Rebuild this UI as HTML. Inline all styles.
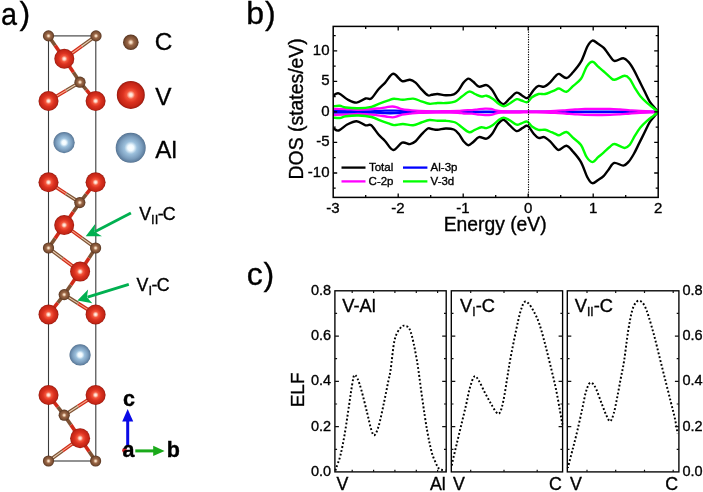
<!DOCTYPE html>
<html><head><meta charset="utf-8"><style>
html,body{margin:0;padding:0;background:#fff;width:703px;height:492px;overflow:hidden}
svg{display:block;will-change:transform}
text{font-family:"Liberation Sans", sans-serif;fill:#000;stroke:#000;stroke-width:0.35px}
</style></head><body>
<svg width="703" height="492" viewBox="0 0 703 492" font-family='&quot;Liberation Sans&quot;, sans-serif'>
<defs><radialGradient id="gV" cx="0.5" cy="0.5" r="0.5"><stop offset="0" stop-color="#fff6ee"/><stop offset="0.12" stop-color="#ffd8c8"/><stop offset="0.3" stop-color="#f4563c"/><stop offset="0.55" stop-color="#dc3220"/><stop offset="0.85" stop-color="#c42616"/><stop offset="0.95" stop-color="#a81c10"/><stop offset="1" stop-color="#8a1a10"/></radialGradient><radialGradient id="gC" cx="0.5" cy="0.5" r="0.5"><stop offset="0" stop-color="#fff2e4"/><stop offset="0.15" stop-color="#f0d2b4"/><stop offset="0.4" stop-color="#9c6848"/><stop offset="0.75" stop-color="#7c5034"/><stop offset="1" stop-color="#54321e"/></radialGradient><radialGradient id="gA" cx="0.5" cy="0.5" r="0.5"><stop offset="0" stop-color="#ffffff"/><stop offset="0.2" stop-color="#f0faff"/><stop offset="0.42" stop-color="#9cc0dc"/><stop offset="0.75" stop-color="#7a9cbc"/><stop offset="0.95" stop-color="#5e7e9e"/><stop offset="1" stop-color="#4e6a88"/></radialGradient></defs>
<rect x="48.5" y="35.9" width="47.3" height="425.1" fill="none" stroke="#3a3a3a" stroke-width="1.1"/>
<line x1="48.50" y1="35.90" x2="55.15" y2="45.54" stroke="#7e5234" stroke-width="3.6"/>
<line x1="55.15" y1="45.54" x2="64.30" y2="58.80" stroke="#d02a18" stroke-width="3.6"/>
<line x1="96.00" y1="35.90" x2="81.93" y2="46.06" stroke="#7e5234" stroke-width="3.6"/>
<line x1="81.93" y1="46.06" x2="64.30" y2="58.80" stroke="#d02a18" stroke-width="3.6"/>
<line x1="96.00" y1="35.90" x2="81.93" y2="46.06" stroke="#ead0b4" stroke-width="1.1"/>
<line x1="81.93" y1="46.06" x2="64.30" y2="58.80" stroke="#f6a88a" stroke-width="1.1"/>
<line x1="80.00" y1="82.20" x2="73.38" y2="72.33" stroke="#7e5234" stroke-width="3.6"/>
<line x1="73.38" y1="72.33" x2="64.30" y2="58.80" stroke="#d02a18" stroke-width="3.6"/>
<line x1="80.00" y1="82.20" x2="66.14" y2="90.47" stroke="#7e5234" stroke-width="3.6"/>
<line x1="66.14" y1="90.47" x2="48.50" y2="101.00" stroke="#d02a18" stroke-width="3.6"/>
<line x1="80.00" y1="82.20" x2="66.14" y2="90.47" stroke="#ead0b4" stroke-width="1.1"/>
<line x1="66.14" y1="90.47" x2="48.50" y2="101.00" stroke="#f6a88a" stroke-width="1.1"/>
<line x1="80.00" y1="82.20" x2="86.40" y2="89.91" stroke="#7e5234" stroke-width="3.6"/>
<line x1="86.40" y1="89.91" x2="95.60" y2="101.00" stroke="#d02a18" stroke-width="3.6"/>
<line x1="79.80" y1="202.60" x2="66.00" y2="193.65" stroke="#7e5234" stroke-width="3.6"/>
<line x1="66.00" y1="193.65" x2="48.50" y2="182.30" stroke="#d02a18" stroke-width="3.6"/>
<line x1="79.80" y1="202.60" x2="66.00" y2="193.65" stroke="#ead0b4" stroke-width="1.1"/>
<line x1="66.00" y1="193.65" x2="48.50" y2="182.30" stroke="#f6a88a" stroke-width="1.1"/>
<line x1="79.80" y1="202.60" x2="86.35" y2="194.19" stroke="#7e5234" stroke-width="3.6"/>
<line x1="86.35" y1="194.19" x2="95.60" y2="182.30" stroke="#d02a18" stroke-width="3.6"/>
<line x1="79.80" y1="202.60" x2="73.25" y2="212.04" stroke="#7e5234" stroke-width="3.6"/>
<line x1="73.25" y1="212.04" x2="64.20" y2="225.10" stroke="#d02a18" stroke-width="3.6"/>
<line x1="48.50" y1="248.00" x2="55.11" y2="238.36" stroke="#7e5234" stroke-width="3.6"/>
<line x1="55.11" y1="238.36" x2="64.20" y2="225.10" stroke="#d02a18" stroke-width="3.6"/>
<line x1="95.60" y1="248.00" x2="81.68" y2="237.85" stroke="#7e5234" stroke-width="3.6"/>
<line x1="81.68" y1="237.85" x2="64.20" y2="225.10" stroke="#d02a18" stroke-width="3.6"/>
<line x1="95.60" y1="248.00" x2="81.68" y2="237.85" stroke="#ead0b4" stroke-width="1.1"/>
<line x1="81.68" y1="237.85" x2="64.20" y2="225.10" stroke="#f6a88a" stroke-width="1.1"/>
<line x1="48.50" y1="248.00" x2="62.54" y2="258.48" stroke="#7e5234" stroke-width="3.6"/>
<line x1="62.54" y1="258.48" x2="80.10" y2="271.60" stroke="#d02a18" stroke-width="3.6"/>
<line x1="48.50" y1="248.00" x2="62.54" y2="258.48" stroke="#ead0b4" stroke-width="1.1"/>
<line x1="62.54" y1="258.48" x2="80.10" y2="271.60" stroke="#f6a88a" stroke-width="1.1"/>
<line x1="95.60" y1="248.00" x2="89.06" y2="257.96" stroke="#7e5234" stroke-width="3.6"/>
<line x1="89.06" y1="257.96" x2="80.10" y2="271.60" stroke="#d02a18" stroke-width="3.6"/>
<line x1="64.20" y1="294.60" x2="70.90" y2="284.91" stroke="#7e5234" stroke-width="3.6"/>
<line x1="70.90" y1="284.91" x2="80.10" y2="271.60" stroke="#d02a18" stroke-width="3.6"/>
<line x1="64.20" y1="294.60" x2="57.71" y2="302.82" stroke="#7e5234" stroke-width="3.6"/>
<line x1="57.71" y1="302.82" x2="48.50" y2="314.50" stroke="#d02a18" stroke-width="3.6"/>
<line x1="64.20" y1="294.60" x2="78.04" y2="303.37" stroke="#7e5234" stroke-width="3.6"/>
<line x1="78.04" y1="303.37" x2="95.60" y2="314.50" stroke="#d02a18" stroke-width="3.6"/>
<line x1="64.20" y1="294.60" x2="78.04" y2="303.37" stroke="#ead0b4" stroke-width="1.1"/>
<line x1="78.04" y1="303.37" x2="95.60" y2="314.50" stroke="#f6a88a" stroke-width="1.1"/>
<line x1="64.20" y1="415.20" x2="57.70" y2="406.84" stroke="#7e5234" stroke-width="3.6"/>
<line x1="57.70" y1="406.84" x2="48.50" y2="395.00" stroke="#d02a18" stroke-width="3.6"/>
<line x1="64.20" y1="415.20" x2="78.05" y2="406.29" stroke="#7e5234" stroke-width="3.6"/>
<line x1="78.05" y1="406.29" x2="95.60" y2="395.00" stroke="#d02a18" stroke-width="3.6"/>
<line x1="64.20" y1="415.20" x2="78.05" y2="406.29" stroke="#ead0b4" stroke-width="1.1"/>
<line x1="78.05" y1="406.29" x2="95.60" y2="395.00" stroke="#f6a88a" stroke-width="1.1"/>
<line x1="64.20" y1="415.20" x2="70.90" y2="424.89" stroke="#7e5234" stroke-width="3.6"/>
<line x1="70.90" y1="424.89" x2="80.10" y2="438.20" stroke="#d02a18" stroke-width="3.6"/>
<line x1="48.50" y1="461.00" x2="62.52" y2="450.89" stroke="#7e5234" stroke-width="3.6"/>
<line x1="62.52" y1="450.89" x2="80.10" y2="438.20" stroke="#d02a18" stroke-width="3.6"/>
<line x1="48.50" y1="461.00" x2="62.52" y2="450.89" stroke="#ead0b4" stroke-width="1.1"/>
<line x1="62.52" y1="450.89" x2="80.10" y2="438.20" stroke="#f6a88a" stroke-width="1.1"/>
<line x1="95.60" y1="461.00" x2="89.09" y2="451.42" stroke="#7e5234" stroke-width="3.6"/>
<line x1="89.09" y1="451.42" x2="80.10" y2="438.20" stroke="#d02a18" stroke-width="3.6"/>
<circle cx="64.1" cy="142.6" r="10.6" fill="url(#gA)"/>
<circle cx="80.1" cy="354.9" r="10.6" fill="url(#gA)"/>
<circle cx="64.3" cy="58.8" r="10" fill="url(#gV)"/>
<circle cx="48.5" cy="101.0" r="10" fill="url(#gV)"/>
<circle cx="95.6" cy="101.0" r="10" fill="url(#gV)"/>
<circle cx="48.5" cy="182.3" r="10" fill="url(#gV)"/>
<circle cx="95.6" cy="182.3" r="10" fill="url(#gV)"/>
<circle cx="64.2" cy="225.1" r="10" fill="url(#gV)"/>
<circle cx="80.1" cy="271.6" r="10" fill="url(#gV)"/>
<circle cx="48.5" cy="314.5" r="10" fill="url(#gV)"/>
<circle cx="95.6" cy="314.5" r="10" fill="url(#gV)"/>
<circle cx="48.5" cy="395.0" r="10" fill="url(#gV)"/>
<circle cx="95.6" cy="395.0" r="10" fill="url(#gV)"/>
<circle cx="80.1" cy="438.2" r="10" fill="url(#gV)"/>
<circle cx="48.5" cy="35.9" r="5.6" fill="url(#gC)"/>
<circle cx="96.0" cy="35.9" r="5.6" fill="url(#gC)"/>
<circle cx="80.0" cy="82.2" r="5.6" fill="url(#gC)"/>
<circle cx="79.8" cy="202.6" r="5.6" fill="url(#gC)"/>
<circle cx="48.5" cy="248.0" r="5.6" fill="url(#gC)"/>
<circle cx="95.6" cy="248.0" r="5.6" fill="url(#gC)"/>
<circle cx="64.2" cy="294.6" r="5.6" fill="url(#gC)"/>
<circle cx="64.2" cy="415.2" r="5.6" fill="url(#gC)"/>
<circle cx="48.5" cy="461.0" r="5.6" fill="url(#gC)"/>
<circle cx="95.6" cy="461.0" r="5.6" fill="url(#gC)"/>
<circle cx="130.8" cy="42.3" r="7.8" fill="url(#gC)"/>
<circle cx="130.8" cy="94.9" r="14" fill="url(#gV)"/>
<circle cx="130.7" cy="147.8" r="15" fill="url(#gA)"/>
<g font-size="24.3"><text x="154.7" y="50.3">C</text><text x="155.2" y="105">V</text><text x="155.2" y="158.1">Al</text></g>
<g font-size="17.8"><text x="139.2" y="219.7">V<tspan font-size="13" dy="4.3">II</tspan><tspan dy="-4.3" dx="-0.6">-</tspan><tspan dx="-0.8">C</tspan></text><text x="136.5" y="290.5">V<tspan font-size="13" dy="4.2">I</tspan><tspan dy="-4.2" dx="-0.4">-</tspan><tspan dx="-0.8">C</tspan></text></g>
<line x1="130.9" y1="213.1" x2="94.8" y2="231.7" stroke="#00b050" stroke-width="2.8"/>
<path d="M85.7,236.3 L95.1,224.1 L94.6,231.7 L102,236.3 Z" fill="#00b050"/>
<line x1="128.8" y1="284.3" x2="87.5" y2="297.2" stroke="#00b050" stroke-width="2.8"/>
<path d="M77.4,300.6 L88.1,289.5 L86.9,297.3 L92.3,303.2 Z" fill="#00b050"/>
<circle cx="124.5" cy="450.5" r="2.4" fill="#cc2020"/>
<line x1="127.7" y1="446" x2="127.7" y2="420" stroke="#0a0ae6" stroke-width="3"/>
<path d="M127.7,409 L133.2,421.6 L122.2,421.6 Z" fill="#0a0ae6"/>
<line x1="135.3" y1="450.9" x2="154" y2="450.9" stroke="#1aaa1a" stroke-width="3"/>
<path d="M164.6,450.9 L153.2,445.8 L153.2,456 Z" fill="#1aaa1a"/>
<g font-size="21.5" font-weight="bold"><text x="123.0" y="406.1">c</text><text x="122.6" y="456.5">a</text><text x="166.8" y="456.5">b</text></g>
<clipPath id="dosclip"><rect x="333.2" y="26.4" width="325.0" height="171.0"/></clipPath>
<g clip-path="url(#dosclip)" fill="none" stroke-linejoin="round" stroke-linecap="round">
<path d="M333.60,95.40 C334.45,95.05 336.37,92.62 338.70,93.30 C341.03,93.98 344.62,97.95 347.60,99.50 C350.58,101.05 353.62,102.77 356.60,102.60 C359.58,102.43 363.07,99.18 365.50,98.50 C367.93,97.82 369.03,100.03 371.20,98.50 C373.37,96.97 376.20,91.92 378.50,89.30 C380.80,86.68 382.55,85.38 385.00,82.80 C387.45,80.22 390.35,74.08 393.20,73.80 C396.05,73.52 399.32,80.12 402.10,81.10 C404.88,82.08 407.65,79.45 409.90,79.70 C412.15,79.95 413.70,81.03 415.60,82.60 C417.50,84.17 419.27,86.98 421.30,89.10 C423.33,91.22 426.05,94.35 427.80,95.30 C429.55,96.25 430.18,95.02 431.80,94.80 C433.42,94.58 435.18,93.92 437.50,94.00 C439.82,94.08 442.98,95.25 445.70,95.30 C448.42,95.35 451.63,95.18 453.80,94.30 C455.97,93.42 457.08,91.95 458.70,90.00 C460.32,88.05 461.88,84.50 463.50,82.60 C465.12,80.70 466.77,78.73 468.40,78.60 C470.03,78.47 471.53,80.45 473.30,81.80 C475.07,83.15 476.80,86.15 479.00,86.70 C481.20,87.25 484.30,84.55 486.50,85.10 C488.70,85.65 490.30,87.57 492.20,90.00 C494.10,92.43 496.00,97.35 497.90,99.70 C499.80,102.05 501.70,104.23 503.60,104.10 C505.50,103.97 507.13,100.80 509.30,98.90 C511.47,97.00 514.43,93.23 516.60,92.70 C518.77,92.17 520.68,94.80 522.30,95.70 C523.92,96.60 525.22,97.88 526.30,98.10 C527.38,98.32 527.57,98.35 528.80,97.00 C530.03,95.65 532.08,91.85 533.70,90.00 C535.32,88.15 536.75,86.45 538.50,85.90 C540.25,85.35 542.30,87.25 544.20,86.70 C546.10,86.15 548.00,84.37 549.90,82.60 C551.80,80.83 554.07,77.55 555.60,76.10 C557.13,74.65 557.30,73.58 559.10,73.90 C560.90,74.22 564.10,78.27 566.40,78.00 C568.70,77.73 570.47,75.02 572.90,72.30 C575.33,69.58 578.57,66.03 581.00,61.70 C583.43,57.37 585.60,49.82 587.50,46.30 C589.40,42.78 590.63,41.02 592.40,40.60 C594.17,40.18 596.20,42.58 598.10,43.80 C600.00,45.02 602.03,46.13 603.80,47.90 C605.57,49.67 606.95,52.23 608.70,54.40 C610.45,56.57 611.87,60.27 614.30,60.90 C616.73,61.53 620.93,58.03 623.30,58.20 C625.67,58.37 626.75,59.97 628.50,61.90 C630.25,63.83 632.03,66.72 633.80,69.80 C635.57,72.88 637.33,76.87 639.10,80.40 C640.87,83.93 642.63,87.47 644.40,91.00 C646.17,94.53 647.93,98.73 649.70,101.60 C651.47,104.47 653.62,106.50 655.00,108.20 C656.38,109.90 657.50,111.20 658.00,111.80" stroke="#000" stroke-width="2.4"/>
<path d="M333.60,128.40 C334.45,128.75 336.37,131.18 338.70,130.50 C341.03,129.82 344.62,125.85 347.60,124.30 C350.58,122.75 353.62,121.03 356.60,121.20 C359.58,121.37 363.07,124.62 365.50,125.30 C367.93,125.98 369.03,123.77 371.20,125.30 C373.37,126.83 376.20,131.88 378.50,134.50 C380.80,137.12 382.55,138.42 385.00,141.00 C387.45,143.58 390.35,149.72 393.20,150.00 C396.05,150.28 399.32,143.68 402.10,142.70 C404.88,141.72 407.65,144.35 409.90,144.10 C412.15,143.85 413.70,142.77 415.60,141.20 C417.50,139.63 419.27,136.82 421.30,134.70 C423.33,132.58 426.05,129.45 427.80,128.50 C429.55,127.55 430.18,128.78 431.80,129.00 C433.42,129.22 435.18,129.88 437.50,129.80 C439.82,129.72 442.98,128.55 445.70,128.50 C448.42,128.45 451.63,128.62 453.80,129.50 C455.97,130.38 457.08,131.85 458.70,133.80 C460.32,135.75 461.88,139.30 463.50,141.20 C465.12,143.10 466.77,145.07 468.40,145.20 C470.03,145.33 471.53,143.35 473.30,142.00 C475.07,140.65 476.80,137.65 479.00,137.10 C481.20,136.55 484.30,139.25 486.50,138.70 C488.70,138.15 490.30,136.23 492.20,133.80 C494.10,131.37 496.00,126.45 497.90,124.10 C499.80,121.75 501.70,119.57 503.60,119.70 C505.50,119.83 507.13,123.00 509.30,124.90 C511.47,126.80 514.43,130.57 516.60,131.10 C518.77,131.63 520.68,129.00 522.30,128.10 C523.92,127.20 525.22,125.92 526.30,125.70 C527.38,125.48 527.57,125.45 528.80,126.80 C530.03,128.15 532.08,131.95 533.70,133.80 C535.32,135.65 536.75,137.35 538.50,137.90 C540.25,138.45 542.30,136.55 544.20,137.10 C546.10,137.65 548.00,139.43 549.90,141.20 C551.80,142.97 554.07,146.25 555.60,147.70 C557.13,149.15 557.30,150.22 559.10,149.90 C560.90,149.58 564.10,145.53 566.40,145.80 C568.70,146.07 570.47,148.78 572.90,151.50 C575.33,154.22 578.57,157.77 581.00,162.10 C583.43,166.43 585.60,173.98 587.50,177.50 C589.40,181.02 590.63,182.78 592.40,183.20 C594.17,183.62 596.20,181.22 598.10,180.00 C600.00,178.78 602.03,177.67 603.80,175.90 C605.57,174.13 606.95,171.57 608.70,169.40 C610.45,167.23 611.87,163.53 614.30,162.90 C616.73,162.27 620.93,165.77 623.30,165.60 C625.67,165.43 626.75,163.83 628.50,161.90 C630.25,159.97 632.03,157.08 633.80,154.00 C635.57,150.92 637.33,146.93 639.10,143.40 C640.87,139.87 642.63,136.33 644.40,132.80 C646.17,129.27 647.93,125.07 649.70,122.20 C651.47,119.33 653.62,117.30 655.00,115.60 C656.38,113.90 657.50,112.60 658.00,112.00" stroke="#000" stroke-width="2.4"/>
<path d="M333.60,111.10 C335.50,111.10 340.60,111.05 345.00,111.10 C349.40,111.15 355.00,111.40 360.00,111.40 C365.00,111.40 370.83,111.23 375.00,111.10 C379.17,110.97 381.67,110.68 385.00,110.60 C388.33,110.52 391.67,110.50 395.00,110.60 C398.33,110.70 401.83,111.03 405.00,111.20 C408.17,111.37 411.17,111.50 414.00,111.60 C416.83,111.70 417.67,111.75 422.00,111.80 C426.33,111.85 433.67,111.88 440.00,111.90 C446.33,111.92 455.00,111.90 460.00,111.90 C465.00,111.90 466.67,111.92 470.00,111.90 C473.33,111.88 477.17,111.84 480.00,111.80 C482.83,111.76 484.83,111.65 487.00,111.65 C489.17,111.65 490.83,111.76 493.00,111.80 C495.17,111.84 490.50,111.88 500.00,111.90 C509.50,111.92 539.17,111.92 550.00,111.90 C560.83,111.88 558.33,111.83 565.00,111.80 C571.67,111.77 580.83,111.72 590.00,111.70 C599.17,111.68 610.83,111.68 620.00,111.70 C629.17,111.72 638.75,111.77 645.00,111.80 C651.25,111.83 655.42,111.88 657.50,111.90" stroke="#0000ff" stroke-width="2.3"/>
<path d="M333.60,112.70 C335.50,112.70 340.60,112.75 345.00,112.70 C349.40,112.65 355.00,112.40 360.00,112.40 C365.00,112.40 370.83,112.57 375.00,112.70 C379.17,112.83 381.67,113.12 385.00,113.20 C388.33,113.28 391.67,113.30 395.00,113.20 C398.33,113.10 401.83,112.77 405.00,112.60 C408.17,112.43 411.17,112.30 414.00,112.20 C416.83,112.10 417.67,112.05 422.00,112.00 C426.33,111.95 433.67,111.92 440.00,111.90 C446.33,111.88 455.00,111.90 460.00,111.90 C465.00,111.90 466.67,111.88 470.00,111.90 C473.33,111.92 477.17,111.96 480.00,112.00 C482.83,112.04 484.83,112.15 487.00,112.15 C489.17,112.15 490.83,112.04 493.00,112.00 C495.17,111.96 490.50,111.92 500.00,111.90 C509.50,111.88 539.17,111.88 550.00,111.90 C560.83,111.92 558.33,111.97 565.00,112.00 C571.67,112.03 580.83,112.08 590.00,112.10 C599.17,112.12 610.83,112.12 620.00,112.10 C629.17,112.08 638.75,112.03 645.00,112.00 C651.25,111.97 655.42,111.92 657.50,111.90" stroke="#0000ff" stroke-width="2.3"/>
<path d="M333.60,108.90 C335.50,108.93 340.93,108.93 345.00,109.10 C349.07,109.27 353.83,109.88 358.00,109.90 C362.17,109.92 366.67,109.43 370.00,109.20 C373.33,108.97 375.33,108.82 378.00,108.50 C380.67,108.18 383.58,107.63 386.00,107.30 C388.42,106.97 390.67,106.48 392.50,106.50 C394.33,106.52 395.42,106.95 397.00,107.40 C398.58,107.85 399.83,108.73 402.00,109.20 C404.17,109.67 407.17,109.90 410.00,110.20 C412.83,110.50 414.67,110.82 419.00,111.00 C423.33,111.18 431.67,111.28 436.00,111.30 C440.33,111.32 441.33,111.15 445.00,111.10 C448.67,111.05 454.83,111.13 458.00,111.00 C461.17,110.87 461.67,110.45 464.00,110.30 C466.33,110.15 469.67,110.27 472.00,110.10 C474.33,109.93 475.83,109.55 478.00,109.30 C480.17,109.05 482.83,108.67 485.00,108.60 C487.17,108.53 489.17,108.60 491.00,108.90 C492.83,109.20 494.33,110.02 496.00,110.40 C497.67,110.78 497.00,111.05 501.00,111.20 C505.00,111.35 515.67,111.25 520.00,111.30 C524.33,111.35 522.83,111.50 527.00,111.50 C531.17,111.50 540.33,111.38 545.00,111.30 C549.67,111.22 551.67,111.17 555.00,111.00 C558.33,110.83 561.67,110.55 565.00,110.30 C568.33,110.05 571.67,109.73 575.00,109.50 C578.33,109.27 580.83,109.02 585.00,108.90 C589.17,108.78 595.83,108.80 600.00,108.80 C604.17,108.80 606.67,108.78 610.00,108.90 C613.33,109.02 616.67,109.27 620.00,109.50 C623.33,109.73 626.67,110.05 630.00,110.30 C633.33,110.55 636.67,110.82 640.00,111.00 C643.33,111.18 647.08,111.25 650.00,111.40 C652.92,111.55 656.25,111.82 657.50,111.90" stroke="#ff00ff" stroke-width="2.3"/>
<path d="M333.60,114.90 C335.50,114.87 340.93,114.87 345.00,114.70 C349.07,114.53 353.83,113.92 358.00,113.90 C362.17,113.88 366.67,114.37 370.00,114.60 C373.33,114.83 375.33,114.98 378.00,115.30 C380.67,115.62 383.58,116.17 386.00,116.50 C388.42,116.83 390.67,117.32 392.50,117.30 C394.33,117.28 395.42,116.85 397.00,116.40 C398.58,115.95 399.83,115.07 402.00,114.60 C404.17,114.13 407.17,113.90 410.00,113.60 C412.83,113.30 414.67,112.98 419.00,112.80 C423.33,112.62 431.67,112.52 436.00,112.50 C440.33,112.48 441.33,112.65 445.00,112.70 C448.67,112.75 454.83,112.67 458.00,112.80 C461.17,112.93 461.67,113.35 464.00,113.50 C466.33,113.65 469.67,113.53 472.00,113.70 C474.33,113.87 475.83,114.25 478.00,114.50 C480.17,114.75 482.83,115.13 485.00,115.20 C487.17,115.27 489.17,115.20 491.00,114.90 C492.83,114.60 494.33,113.78 496.00,113.40 C497.67,113.02 497.00,112.75 501.00,112.60 C505.00,112.45 515.67,112.55 520.00,112.50 C524.33,112.45 522.83,112.30 527.00,112.30 C531.17,112.30 540.33,112.42 545.00,112.50 C549.67,112.58 551.67,112.63 555.00,112.80 C558.33,112.97 561.67,113.25 565.00,113.50 C568.33,113.75 571.67,114.07 575.00,114.30 C578.33,114.53 580.83,114.78 585.00,114.90 C589.17,115.02 595.83,115.00 600.00,115.00 C604.17,115.00 606.67,115.02 610.00,114.90 C613.33,114.78 616.67,114.53 620.00,114.30 C623.33,114.07 626.67,113.75 630.00,113.50 C633.33,113.25 636.67,112.98 640.00,112.80 C643.33,112.62 647.08,112.55 650.00,112.40 C652.92,112.25 656.25,111.98 657.50,111.90" stroke="#ff00ff" stroke-width="2.3"/>
<path d="M333.60,106.20 C334.63,106.13 337.77,105.58 339.80,105.80 C341.83,106.02 342.67,107.08 345.80,107.50 C348.93,107.92 354.33,108.42 358.60,108.30 C362.87,108.18 367.83,107.62 371.40,106.80 C374.97,105.98 377.15,104.47 380.00,103.40 C382.85,102.33 386.17,101.18 388.50,100.40 C390.83,99.62 391.60,98.80 394.00,98.70 C396.40,98.60 399.72,99.82 402.90,99.80 C406.08,99.78 410.03,98.35 413.10,98.60 C416.17,98.85 418.58,100.43 421.30,101.30 C424.02,102.17 426.70,103.52 429.40,103.80 C432.10,104.08 434.78,103.13 437.50,103.00 C440.22,102.87 442.72,103.28 445.70,103.00 C448.68,102.72 452.70,102.38 455.40,101.30 C458.10,100.22 459.60,98.12 461.90,96.50 C464.20,94.88 467.03,92.02 469.20,91.60 C471.37,91.18 472.87,93.18 474.90,94.00 C476.93,94.82 479.47,96.22 481.40,96.50 C483.33,96.78 484.57,95.30 486.50,95.70 C488.43,96.10 490.97,97.55 493.00,98.90 C495.03,100.25 496.93,102.58 498.70,103.80 C500.47,105.02 501.83,106.20 503.60,106.20 C505.37,106.20 507.13,104.97 509.30,103.80 C511.47,102.63 514.57,99.75 516.60,99.20 C518.63,98.65 519.73,100.00 521.50,100.50 C523.27,101.00 525.45,102.73 527.20,102.20 C528.95,101.67 530.12,98.67 532.00,97.30 C533.88,95.93 536.33,94.55 538.50,94.00 C540.67,93.45 542.83,94.40 545.00,94.00 C547.17,93.60 549.83,92.23 551.50,91.60 C553.17,90.97 553.73,90.72 555.00,90.20 C556.27,89.68 557.20,88.23 559.10,88.50 C561.00,88.77 564.10,92.20 566.40,91.80 C568.70,91.40 570.47,88.27 572.90,86.10 C575.33,83.93 578.70,82.05 581.00,78.80 C583.30,75.55 584.80,69.45 586.70,66.60 C588.60,63.75 590.50,61.70 592.40,61.70 C594.30,61.70 596.20,64.97 598.10,66.60 C600.00,68.23 601.82,69.75 603.80,71.50 C605.78,73.25 608.20,75.72 610.00,77.10 C611.80,78.48 612.17,80.02 614.60,79.80 C617.03,79.58 622.07,75.92 624.60,75.80 C627.13,75.68 628.05,77.00 629.80,79.10 C631.55,81.20 633.33,85.53 635.10,88.40 C636.87,91.27 638.42,93.88 640.40,96.30 C642.38,98.72 644.78,100.92 647.00,102.90 C649.22,104.88 651.87,106.72 653.70,108.20 C655.53,109.68 657.28,111.20 658.00,111.80" stroke="#00ff00" stroke-width="2.4"/>
<path d="M333.60,117.60 C334.63,117.67 337.77,118.22 339.80,118.00 C341.83,117.78 342.67,116.72 345.80,116.30 C348.93,115.88 354.33,115.38 358.60,115.50 C362.87,115.62 367.83,116.18 371.40,117.00 C374.97,117.82 377.15,119.33 380.00,120.40 C382.85,121.47 386.17,122.62 388.50,123.40 C390.83,124.18 391.60,125.00 394.00,125.10 C396.40,125.20 399.72,123.98 402.90,124.00 C406.08,124.02 410.03,125.45 413.10,125.20 C416.17,124.95 418.58,123.37 421.30,122.50 C424.02,121.63 426.70,120.28 429.40,120.00 C432.10,119.72 434.78,120.67 437.50,120.80 C440.22,120.93 442.72,120.52 445.70,120.80 C448.68,121.08 452.70,121.42 455.40,122.50 C458.10,123.58 459.60,125.68 461.90,127.30 C464.20,128.92 467.03,131.78 469.20,132.20 C471.37,132.62 472.87,130.62 474.90,129.80 C476.93,128.98 479.47,127.58 481.40,127.30 C483.33,127.02 484.57,128.50 486.50,128.10 C488.43,127.70 490.97,126.25 493.00,124.90 C495.03,123.55 496.93,121.22 498.70,120.00 C500.47,118.78 501.83,117.60 503.60,117.60 C505.37,117.60 507.13,118.83 509.30,120.00 C511.47,121.17 514.57,124.05 516.60,124.60 C518.63,125.15 519.73,123.80 521.50,123.30 C523.27,122.80 525.45,121.07 527.20,121.60 C528.95,122.13 530.12,125.13 532.00,126.50 C533.88,127.87 536.33,129.25 538.50,129.80 C540.67,130.35 542.83,129.40 545.00,129.80 C547.17,130.20 549.83,131.57 551.50,132.20 C553.17,132.83 553.73,133.08 555.00,133.60 C556.27,134.12 557.20,135.57 559.10,135.30 C561.00,135.03 564.10,131.60 566.40,132.00 C568.70,132.40 570.47,135.53 572.90,137.70 C575.33,139.87 578.70,141.75 581.00,145.00 C583.30,148.25 584.80,154.35 586.70,157.20 C588.60,160.05 590.50,162.10 592.40,162.10 C594.30,162.10 596.20,158.83 598.10,157.20 C600.00,155.57 601.82,154.05 603.80,152.30 C605.78,150.55 608.20,148.08 610.00,146.70 C611.80,145.32 612.17,143.78 614.60,144.00 C617.03,144.22 622.07,147.88 624.60,148.00 C627.13,148.12 628.05,146.80 629.80,144.70 C631.55,142.60 633.33,138.27 635.10,135.40 C636.87,132.53 638.42,129.92 640.40,127.50 C642.38,125.08 644.78,122.88 647.00,120.90 C649.22,118.92 651.87,117.08 653.70,115.60 C655.53,114.12 657.28,112.60 658.00,112.00" stroke="#00ff00" stroke-width="2.4"/>
</g>
<line x1="528.5" y1="26.4" x2="528.5" y2="197.4" stroke="#000" stroke-width="1.1" stroke-dasharray="1.25 1.25"/>
<rect x="333.2" y="26.4" width="325.0" height="171.0" fill="none" stroke="#000" stroke-width="1.5"/>
<path d="M365.7,197.4V194.9M365.7,26.4V28.9M398.2,197.4V193.4M398.2,26.4V30.4M430.7,197.4V194.9M430.7,26.4V28.9M463.2,197.4V193.4M463.2,26.4V30.4M495.7,197.4V194.9M495.7,26.4V28.9M528.2,197.4V193.4M528.2,26.4V30.4M560.7,197.4V194.9M560.7,26.4V28.9M593.2,197.4V193.4M593.2,26.4V30.4M625.7,197.4V194.9M625.7,26.4V28.9M333.2,188.2H335.7M658.2,188.2H655.7M333.2,173.0H337.2M658.2,173.0H654.2M333.2,157.7H335.7M658.2,157.7H655.7M333.2,142.4H337.2M658.2,142.4H654.2M333.2,127.2H335.7M658.2,127.2H655.7M333.2,111.9H337.2M658.2,111.9H654.2M333.2,96.6H335.7M658.2,96.6H655.7M333.2,81.4H337.2M658.2,81.4H654.2M333.2,66.1H335.7M658.2,66.1H655.7M333.2,50.8H337.2M658.2,50.8H654.2M333.2,35.6H335.7M658.2,35.6H655.7" stroke="#000" stroke-width="1.3" fill="none"/>
<text x="332.9" y="212.9" text-anchor="middle" font-size="15">-3</text>
<text x="397.9" y="212.9" text-anchor="middle" font-size="15">-2</text>
<text x="462.9" y="212.9" text-anchor="middle" font-size="15">-1</text>
<text x="528.2" y="212.9" text-anchor="middle" font-size="15">0</text>
<text x="593.2" y="212.9" text-anchor="middle" font-size="15">1</text>
<text x="658.2" y="212.9" text-anchor="middle" font-size="15">2</text>
<text x="329.5" y="176.8" text-anchor="end" font-size="15">-10</text>
<text x="329.5" y="146.3" text-anchor="end" font-size="15">-5</text>
<text x="329.5" y="115.8" text-anchor="end" font-size="15">0</text>
<text x="329.5" y="85.2" text-anchor="end" font-size="15">5</text>
<text x="329.5" y="54.7" text-anchor="end" font-size="15">10</text>
<text x="443.7" y="230.7" font-size="19.3">Energy (eV)</text>
<text transform="translate(302.8,179.4) rotate(-90)" font-size="19.4">DOS (states/eV)</text>
<g stroke-width="2.3" fill="none"><line x1="341.5" y1="167.6" x2="365.5" y2="167.6" stroke="#000"/><line x1="403" y1="167.6" x2="427.4" y2="167.6" stroke="#0000ff"/><line x1="341.5" y1="181.4" x2="365.5" y2="181.4" stroke="#ff00ff"/><line x1="403" y1="181.4" x2="427.4" y2="181.4" stroke="#00ff00"/></g>
<g font-size="11.5"><text x="368.9" y="170.8">Total</text><text x="430.6" y="170.8">Al-3p</text><text x="368.6" y="184.6">C-2p</text><text x="430.6" y="184.6">V-3d</text></g>
<path d="M335.60,470.50 C335.68,470.12 335.30,470.72 336.10,468.20 C336.90,465.68 338.97,461.10 340.40,455.40 C341.83,449.70 343.28,442.18 344.70,434.00 C346.12,425.82 347.67,414.48 348.90,406.30 C350.13,398.12 351.20,390.08 352.10,384.90 C353.00,379.72 353.40,376.27 354.30,375.20 C355.20,374.13 356.27,375.82 357.50,378.50 C358.73,381.18 360.10,385.60 361.70,391.30 C363.30,397.00 365.50,406.28 367.10,412.70 C368.70,419.12 370.07,426.07 371.30,429.80 C372.53,433.53 373.25,435.82 374.50,435.10 C375.75,434.38 377.20,431.02 378.80,425.50 C380.40,419.98 382.50,409.47 384.10,402.00 C385.70,394.53 387.32,386.03 388.40,380.70 C389.48,375.37 389.57,376.78 390.60,370.00 C391.63,363.22 392.97,347.00 394.60,340.00 C396.23,333.00 398.60,330.35 400.40,328.00 C402.20,325.65 403.70,325.30 405.40,325.90 C407.10,326.50 408.68,325.87 410.60,331.60 C412.52,337.33 414.95,349.08 416.90,360.30 C418.85,371.52 420.60,387.22 422.30,398.90 C424.00,410.58 425.52,421.47 427.10,430.40 C428.68,439.33 430.32,447.00 431.80,452.50 C433.28,458.00 434.87,460.78 436.00,463.40 C437.13,466.02 437.65,467.13 438.60,468.20 C439.55,469.27 440.53,469.42 441.70,469.80 C442.87,470.18 444.95,470.38 445.60,470.50" fill="none" stroke="#000" stroke-width="1.95" stroke-dasharray="1.85 2.1"/>
<path d="M451.90,465.50 C452.02,464.78 451.78,464.87 452.60,461.20 C453.42,457.53 455.32,449.70 456.80,443.50 C458.28,437.30 459.93,430.52 461.50,424.00 C463.07,417.48 464.83,410.32 466.20,404.40 C467.57,398.48 468.33,393.17 469.70,388.50 C471.07,383.83 472.85,377.65 474.40,376.40 C475.95,375.15 477.25,378.28 479.00,381.00 C480.75,383.72 482.95,389.00 484.90,392.70 C486.85,396.40 488.75,399.88 490.70,403.20 C492.65,406.52 495.03,411.08 496.60,412.60 C498.17,414.12 498.93,414.45 500.10,412.30 C501.27,410.15 502.43,405.30 503.60,399.70 C504.77,394.10 505.95,385.63 507.10,378.70 C508.25,371.77 509.02,366.10 510.50,358.10 C511.98,350.10 514.40,338.25 516.00,330.70 C517.60,323.15 518.73,317.53 520.10,312.80 C521.47,308.07 522.83,303.90 524.20,302.30 C525.57,300.70 526.70,301.67 528.30,303.20 C529.90,304.73 531.97,308.07 533.80,311.50 C535.63,314.93 537.47,318.55 539.30,323.80 C541.13,329.05 542.97,336.13 544.80,343.00 C546.63,349.87 548.47,357.45 550.30,365.00 C552.13,372.55 554.20,380.75 555.80,388.30 C557.40,395.85 558.80,404.27 559.90,410.30 C561.00,416.33 561.98,422.13 562.40,424.50" fill="none" stroke="#000" stroke-width="1.95" stroke-dasharray="1.85 2.1"/>
<path d="M568.00,468.00 C568.03,467.72 567.40,469.50 568.20,466.30 C569.00,463.10 571.25,454.83 572.80,448.80 C574.35,442.77 575.93,436.72 577.50,430.10 C579.07,423.48 580.83,415.33 582.20,409.10 C583.57,402.87 584.53,396.95 585.70,392.70 C586.87,388.45 588.03,385.12 589.20,383.60 C590.37,382.08 591.53,382.67 592.70,383.60 C593.87,384.53 594.65,385.73 596.20,389.20 C597.75,392.67 600.25,399.92 602.00,404.40 C603.75,408.88 605.33,413.30 606.70,416.10 C608.07,418.90 609.03,421.60 610.20,421.20 C611.37,420.80 612.53,417.67 613.70,413.70 C614.87,409.73 616.03,403.23 617.20,397.40 C618.37,391.57 619.55,384.78 620.70,378.70 C621.85,372.62 622.85,368.90 624.10,360.90 C625.35,352.90 626.83,339.17 628.20,330.70 C629.57,322.23 630.92,314.90 632.30,310.10 C633.68,305.30 635.12,303.38 636.50,301.90 C637.88,300.42 639.23,300.52 640.60,301.20 C641.97,301.88 643.33,303.37 644.70,306.00 C646.07,308.63 647.20,311.97 648.80,317.00 C650.40,322.03 652.47,329.35 654.30,336.20 C656.13,343.05 657.97,350.78 659.80,358.10 C661.63,365.42 663.47,372.78 665.30,380.10 C667.13,387.42 669.20,395.60 670.80,402.00 C672.40,408.40 673.77,413.25 674.90,418.50 C676.03,423.75 677.15,431.00 677.60,433.50" fill="none" stroke="#000" stroke-width="1.95" stroke-dasharray="1.85 2.1"/>
<rect x="334.9" y="290.8" width="111.3" height="181.1" fill="none" stroke="#000" stroke-width="1.35"/>
<path d="M334.9,449.3H337.1M446.2,449.3H444.0M334.9,426.6H338.9M446.2,426.6H442.2M334.9,404.0H337.1M446.2,404.0H444.0M334.9,381.4H338.9M446.2,381.4H442.2M334.9,358.7H337.1M446.2,358.7H444.0M334.9,336.1H338.9M446.2,336.1H442.2M334.9,313.4H337.1M446.2,313.4H444.0M352.2,471.9V469.7M352.2,290.8V293.0M373.6,471.9V469.7M373.6,290.8V293.0M394.9,471.9V469.7M394.9,290.8V293.0M416.3,471.9V469.7M416.3,290.8V293.0M437.6,471.9V469.7M437.6,290.8V293.0" stroke="#111" stroke-width="1.2" fill="none"/>
<rect x="451.3" y="290.8" width="111.3" height="181.1" fill="none" stroke="#000" stroke-width="1.35"/>
<path d="M451.3,449.3H453.5M562.6,449.3H560.4M451.3,426.6H455.3M562.6,426.6H558.6M451.3,404.0H453.5M562.6,404.0H560.4M451.3,381.4H455.3M562.6,381.4H558.6M451.3,358.7H453.5M562.6,358.7H560.4M451.3,336.1H455.3M562.6,336.1H558.6M451.3,313.4H453.5M562.6,313.4H560.4M470.7,471.9V469.7M470.7,290.8V293.0M504.0,471.9V469.7M504.0,290.8V293.0M537.2,471.9V469.7M537.2,290.8V293.0" stroke="#111" stroke-width="1.2" fill="none"/>
<rect x="567.3" y="290.8" width="111.6" height="181.1" fill="none" stroke="#000" stroke-width="1.35"/>
<path d="M567.3,449.3H569.5M678.9,449.3H676.7M567.3,426.6H571.3M678.9,426.6H674.9M567.3,404.0H569.5M678.9,404.0H676.7M567.3,381.4H571.3M678.9,381.4H674.9M567.3,358.7H569.5M678.9,358.7H676.7M567.3,336.1H571.3M678.9,336.1H674.9M567.3,313.4H569.5M678.9,313.4H676.7M587.0,471.9V469.7M587.0,290.8V293.0M615.7,471.9V469.7M615.7,290.8V293.0M644.5,471.9V469.7M644.5,290.8V293.0M673.2,471.9V469.7M673.2,290.8V293.0" stroke="#111" stroke-width="1.2" fill="none"/>
<text x="331.2" y="475.8" text-anchor="end" font-size="14.5">0.0</text>
<text x="682.5" y="475.8" font-size="14.5">0.0</text>
<text x="331.2" y="430.5" text-anchor="end" font-size="14.5">0.2</text>
<text x="682.5" y="430.5" font-size="14.5">0.2</text>
<text x="331.2" y="385.2" text-anchor="end" font-size="14.5">0.4</text>
<text x="682.5" y="385.2" font-size="14.5">0.4</text>
<text x="331.2" y="340.0" text-anchor="end" font-size="14.5">0.6</text>
<text x="682.5" y="340.0" font-size="14.5">0.6</text>
<text x="331.2" y="294.7" text-anchor="end" font-size="14.5">0.8</text>
<text x="682.5" y="294.7" font-size="14.5">0.8</text>
<text transform="translate(303.9,407.3) rotate(-90)" font-size="19">ELF</text>
<g font-size="17.8"><text x="336.4" y="489.6">V</text><text x="430" y="489.6">Al</text><text x="453.1" y="489.6">V</text><text x="549.1" y="489.6">C</text><text x="569.9" y="489.6">V</text><text x="665.3" y="489.6">C</text></g>
<g font-size="18.3"><text x="342.3" y="311.8">V-Al</text><text x="460.1" y="311.8">V<tspan font-size="12" dy="4.1">I</tspan><tspan dy="-4.1">-C</tspan></text><text x="574.8" y="311.8">V<tspan font-size="12" dy="4.1">II</tspan><tspan dy="-4.1">-C</tspan></text></g>
<g font-size="32"><text transform="translate(0.9,24.8) scale(0.9,1)">a</text><text x="19.6" y="24.3">)</text><text x="246.3" y="24.4">b</text><text x="265.1" y="24.4">)</text><text x="246.7" y="284.7">c</text><text x="263.4" y="284.7">)</text></g>
</svg>
</body></html>
